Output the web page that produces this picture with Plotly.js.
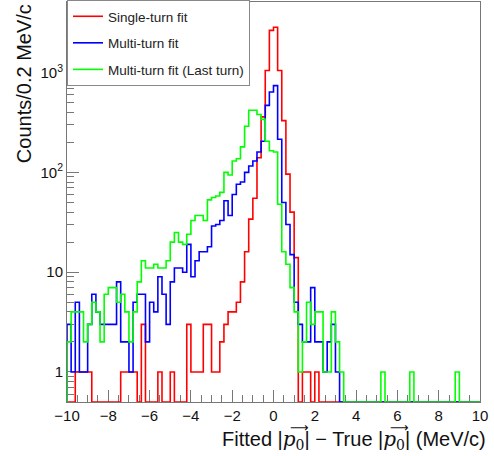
<!DOCTYPE html>
<html>
<head>
<meta charset="utf-8">
<script src="https://cdn.plot.ly/plotly-3.0.1.min.js"></script>
<style>
html,body{margin:0;padding:0;background:#fff;}
#chart{width:494px;height:456px;}
</style>
</head>
<body>
<div id="chart"></div>
<script>
// Histogram: 100 bins of 0.2 MeV/c from -10 to 10
const binLow = -10;
const binWidth = 0.2;
const nBins = 100;

const seriesNames = ["Single-turn fit", "Multi-turn fit", "Multi-turn fit (Last turn)"];

const singleTurn = [
  0,0,1,1,1,1,0,0,0,0,
  0,0,0,1,1,1,1,0,3,0,
  0,0,1,0,0,1,0,0,0,3,
  1,1,1,3,3,1,1,2,3,4,
  4,5,8,16,34,55,140,360,1050,2650,
  2850,1050,330,96,40,14,0,1,1,0,
  1,0,0,0,0,0,0,0,0,0,
  0,0,0,0,0,0,0,0,0,0,
  0,0,0,0,0,0,0,0,0,0,
  0,0,0,0,0,0,0,0,0,0
];

const multiTurn = [
  3,1,5,1,1,3,6,4,3,3,
  3,3,8,2,2,1,5,6,6,2,
  5,4,9,6,3,8,11,11,10,19,
  9,13,16,16,18,29,30,33,52,37,
  60,76,80,100,116,130,160,205,470,640,
  740,215,50,30,15,5,3,2,2,7,
  2,2,1,2,3,1,0,0,0,0,
  0,0,0,0,0,0,0,0,0,0,
  0,0,0,0,0,0,0,0,0,0,
  0,0,0,0,0,0,0,0,0,0
];

const multiTurnLast = [
  2,4,4,4,2,3,5,4,2,6,
  7,7,5,6,4,2,4,8,13,11,
  11,12,11,11,13,20,25,20,19,24,
  33,37,37,33,53,56,58,63,100,94,
  130,137,180,290,420,420,380,340,205,165,
  160,48,16,12,7,4,1,2,5,3,
  4,4,1,1,4,2,1,0,0,0,
  0,0,0,0,0,0,1,0,0,0,
  0,0,0,1,0,0,0,0,0,0,
  0,0,0,0,1,0,0,0,0,0
];

const seriesColors = ["#ff0000", "#0000ff", "#00ff00"];

const xTickVals = [-10,-8,-6,-4,-2,0,2,4,6,8,10];
const xTickText = ["\u221210","\u22128","\u22126","\u22124","\u22122","0","2","4","6","8","10"];
const yTickVals = [1,10,100,1000];
const yTickText = ["1","10","10<sup>2</sup>","10<sup>3</sup>"];

const yMin = 0.5;
const yMax = 5100;

function stepTrace(counts, name, color) {
  const xs = [binLow];
  const ys = [yMin];
  for (let i = 0; i < nBins; i++) {
    xs.push(binLow + i * binWidth);
    ys.push(counts[i] > 0 ? counts[i] : yMin);
  }
  const xEnd = binLow + nBins * binWidth;
  xs.push(xEnd); ys.push(counts[nBins - 1] > 0 ? counts[nBins - 1] : yMin);
  xs.push(xEnd); ys.push(yMin);
  return {
    type: "scatter", mode: "lines", x: xs, y: ys, name: name,
    legendgroup: name,
    line: {shape: "hv", color: color, width: 1.6},
    hoverinfo: "skip"
  };
}

const traces = [
  stepTrace(singleTurn, seriesNames[0], seriesColors[0]),
  stepTrace(multiTurn, seriesNames[1], seriesColors[1]),
  stepTrace(multiTurnLast, seriesNames[2], seriesColors[2])
];

const pMath = '<span style="font-family:DejaVu Serif"><i>p</i><sub>0</sub></span>';

const arrowStyle = {size: 13, color: "#111", family: "DejaVu Sans"};

const layout = {
  width: 494, height: 456,
  margin: {l: 67, r: 14, t: 1, b: 54},
  paper_bgcolor: "#ffffff",
  plot_bgcolor: "#ffffff",
  font: {family: "'Liberation Sans', Arial, sans-serif", color: "#111", size: 14},
  showlegend: true,
  legend: {
    x: 0, y: 1.003, xanchor: "left", yanchor: "top",
    bgcolor: "#ffffff", bordercolor: "#888", borderwidth: 1,
    font: {family: "'Liberation Sans', Arial, sans-serif", size: 13.5, color: "#222"},
    tracegroupgap: 6, itemwidth: 30
  },
  xaxis: {
    range: [-10, 10], tickvals: xTickVals, ticktext: xTickText,
    ticks: "inside", ticklen: 12, tickcolor: "#777", tickwidth: 1,
    minor: {dtick: 0.5, ticks: "inside", ticklen: 7, tickcolor: "#777", showgrid: false},
    showline: true, linecolor: "#777", linewidth: 1, mirror: true,
    showgrid: false, zeroline: false, layer: "below traces",
    tickfont: {size: 15, color: "#111"}
  },
  yaxis: {
    type: "log", range: [Math.log10(yMin), Math.log10(yMax)],
    tickvals: yTickVals, ticktext: yTickText,
    ticks: "inside", ticklen: 12, tickcolor: "#777", tickwidth: 1,
    minor: {dtick: "D1", ticks: "inside", ticklen: 7, tickcolor: "#777", showgrid: false},
    showline: true, linecolor: "#777", linewidth: 1, mirror: true,
    showgrid: false, zeroline: false, layer: "below traces",
    tickfont: {size: 15, color: "#111"}
  },
  annotations: [
    {
      text: "Counts/0.2 MeV/c", textangle: -90,
      xref: "paper", yref: "paper", x: -0.105, y: 1.0,
      xanchor: "center", yanchor: "top", showarrow: false,
      font: {size: 20, color: "#111"}
    },
    {
      text: "Fitted |" + pMath + "| \u2212 True |" + pMath + "| (MeV/c)",
      xref: "paper", yref: "paper", x: 1.02, y: -0.095,
      xanchor: "right", yanchor: "middle", showarrow: false,
      font: {size: 20, color: "#111"}
    },
    {
      text: "\u27F6", xref: "paper", yref: "paper", x: 0.564, y: -0.063,
      xanchor: "center", yanchor: "middle", showarrow: false, font: arrowStyle
    },
    {
      text: "\u27F6", xref: "paper", yref: "paper", x: 0.804, y: -0.063,
      xanchor: "center", yanchor: "middle", showarrow: false, font: arrowStyle
    }
  ]
};

Plotly.newPlot("chart", traces, layout, {displayModeBar: false, staticPlot: true});
</script>
</body>
</html>
